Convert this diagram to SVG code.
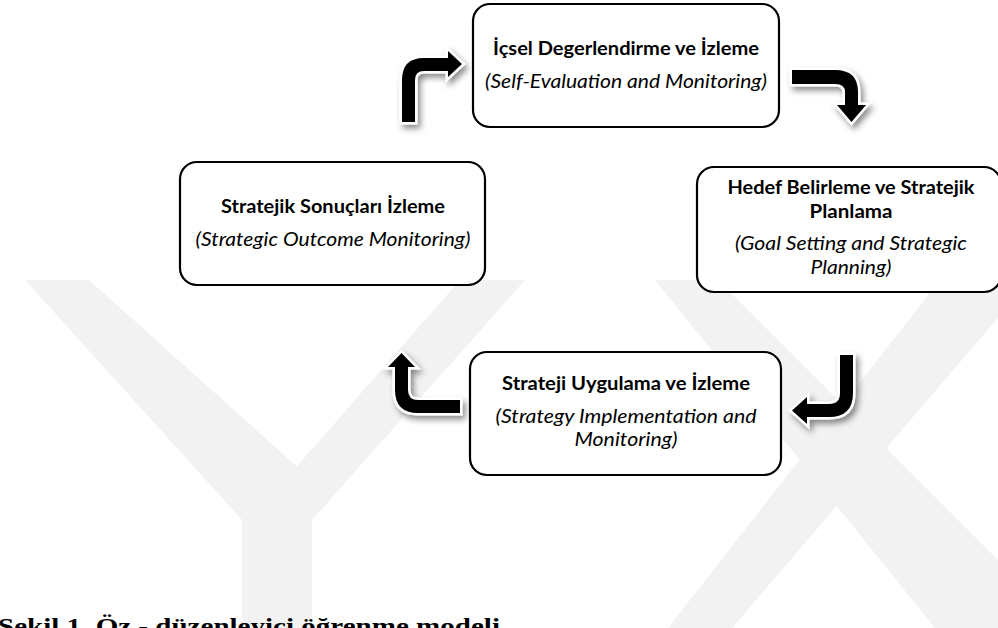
<svg xmlns="http://www.w3.org/2000/svg" width="998" height="628" viewBox="0 0 998 628">
<defs>
<filter id="sh" x="-30%" y="-30%" width="160%" height="160%">
<feDropShadow dx="3" dy="4" stdDeviation="3" flood-color="#000" flood-opacity="0.45"/>
</filter>
<style>
.wm{fill:#f2f2f2}
.box{fill:#fff;stroke:#000;stroke-width:2.2}
.b{font-family:Lato,"Open Sans",sans-serif;font-weight:bold;font-size:18.5px;fill:#000;text-anchor:middle}
.i{font-family:Lato,"Open Sans",sans-serif;font-style:italic;font-size:18.5px;fill:#000;text-anchor:middle}
.arr{fill:#000;stroke:#fff;stroke-width:5;stroke-linejoin:miter;paint-order:stroke;filter:url(#sh)}
.cap{font-family:"Liberation Serif",serif;font-weight:bold;font-size:23px;fill:#000}
</style>
</defs>
<rect width="998" height="628" fill="#fff"/>
<g id="watermark">
<polygon class="wm" points="25,280 89,280 312,480 312,628 242,628 242,520"/>
<polygon class="wm" points="460,280 525,280 312,520 250,520"/>
<polygon class="wm" points="655,280 718,280 998,560 998,628 935,628"/>
<polygon class="wm" points="940,280 998,280 998,318 732,628 668,628"/>
</g>
<g id="node-top">
<rect class="box" x="473" y="4" width="306" height="123" rx="17"/>
<text class="b" x="626" y="55" textLength="266" lengthAdjust="spacingAndGlyphs">İçsel Degerlendirme ve İzleme</text>
<text class="i" x="626" y="88" textLength="282" lengthAdjust="spacingAndGlyphs">(Self-Evaluation and Monitoring)</text>
</g>
<g id="node-right">
<rect class="box" x="697" y="167" width="304" height="125" rx="17"/>
<text class="b" x="851" y="194" textLength="247" lengthAdjust="spacingAndGlyphs">Hedef Belirleme ve Stratejik</text>
<text class="b" x="851" y="218" textLength="83" lengthAdjust="spacingAndGlyphs">Planlama</text>
<text class="i" x="851" y="250" textLength="232" lengthAdjust="spacingAndGlyphs">(Goal Setting and Strategic</text>
<text class="i" x="851" y="274" textLength="81" lengthAdjust="spacingAndGlyphs">Planning)</text>
</g>
<g id="node-left">
<rect class="box" x="180" y="162" width="305" height="123" rx="17"/>
<text class="b" x="333" y="213" textLength="224" lengthAdjust="spacingAndGlyphs">Stratejik Sonuçları İzleme</text>
<text class="i" x="333" y="246" textLength="275" lengthAdjust="spacingAndGlyphs">(Strategic Outcome Monitoring)</text>
</g>
<g id="node-bottom">
<rect class="box" x="470" y="352" width="311" height="123" rx="17"/>
<text class="b" x="626" y="390" textLength="248" lengthAdjust="spacingAndGlyphs">Strateji Uygulama ve İzleme</text>
<text class="i" x="626" y="423" textLength="261" lengthAdjust="spacingAndGlyphs">(Strategy Implementation and</text>
<text class="i" x="626" y="446" textLength="103" lengthAdjust="spacingAndGlyphs">Monitoring)</text>
</g>
<g id="connectors">
<path class="arr" d="M402,122 L402,80 Q402,58 424,58 L448,58 L448,51 L462,64 L448,77 L448,71 L424,71 Q415,71 415,80 L415,122 Z"/>
<path class="arr" d="M792,70 L835,70 Q858,70 858,92 L858,105 L866,105 L851.5,122 L837,105 L845,105 L845,92 Q845,84 835,84 L792,84 Z"/>
<path class="arr" d="M460,413 L418,413 Q395,413 395,390 L395,367 L388,367 L401.5,353 L415,367 L408,367 L408,390 Q408,400 418,400 L460,400 Z"/>
<path class="arr" d="M840,355 L853,355 L853,393 Q853,417 829,417 L807,417 L807,424 L792,410.5 L807,397 L807,404 L829,404 Q840,404 840,393 Z"/>
</g>
<text class="cap" x="-2" y="634" textLength="502" lengthAdjust="spacingAndGlyphs">Şekil 1. Öz - düzenleyici öğrenme modeli</text>
</svg>
